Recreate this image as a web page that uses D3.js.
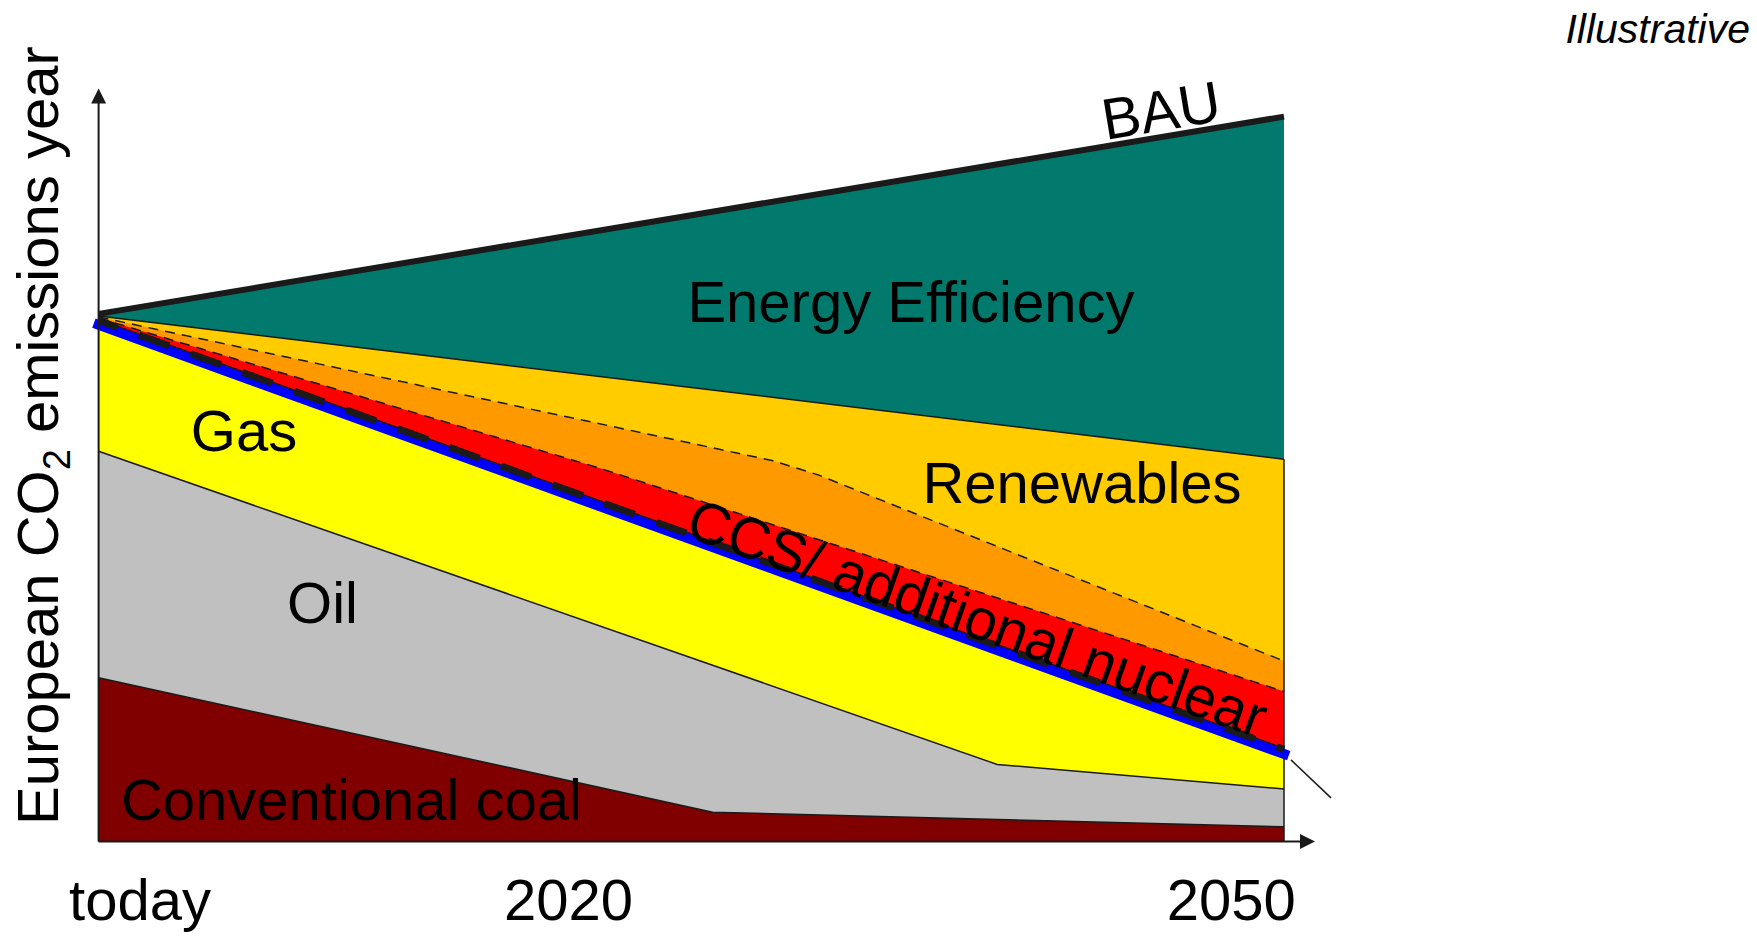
<!DOCTYPE html>
<html>
<head>
<meta charset="utf-8">
<script src="https://cdn.jsdelivr.net/npm/d3@7"></script>
<style>
  html, body { margin: 0; padding: 0; background: #fff; }
  svg { display: block; font-family: 'Liberation Sans', Arial, sans-serif; }
</style>
</head>
<body>
<div class="chart"></div>
<script>
// time runs from today (0) to 2050 (1), emissions indexed so that today = 100
const bauTop = [[0, 100.6], [1, 138.2]]
const renewablesTop = [[0, 100.2], [1, 72.9]]
const orangeTop = [[0, 100], [0.569, 72.6], [0.607, 69.9], [1, 34.4]]
const ccsTop = [[0, 99.8], [0.4225, 71.2], [1, 28.6]]
const gasTop = [[0, 98.5], [1, 16.7]]
const oilTop = [[0, 74.4], [0.758, 14.7], [1, 10.0]]
const coalTop = [[0, 31.2], [0.518, 5.6], [1, 2.8]]

const tickLabels = ['today', '2020', '2050']
const tickValues = [0.0345, 0.396, 0.955]

const width = 1757
const height = 937

const x = d3.scaleLinear().domain([0, 1]).range([98.6, 1284])
const y = d3.scaleLinear().domain([0, 100]).range([841.5, 317])

const svg = d3.select('.chart')
  .append('svg')
  .attr('width', width)
  .attr('height', height)

const area = d3.area()
  .x(d => x(d[0]))
  .y0(y(0))
  .y1(d => y(d[1]))

const line = d3.line()
  .x(d => x(d[0]))
  .y(d => y(d[1]))

// painted top down, each layer covers the one above it
const layers = [
  { top: bauTop, fill: '#02796D' },
  { top: renewablesTop, fill: '#FFCC00' },
  { top: orangeTop, fill: '#FF9900' },
  { top: ccsTop, fill: '#FF0000' },
  { top: gasTop, fill: '#FFFF00' },
  { top: oilTop, fill: '#C0C0C0' },
  { top: coalTop, fill: '#800000' }
]

svg.append('g')
  .selectAll('path')
  .data(layers)
  .join('path')
    .attr('d', d => area(d.top))
    .attr('fill', d => d.fill)

const ink = '#1a1a1a'

// thin boundaries
const thin = svg.append('g').attr('fill', 'none').attr('stroke', ink).attr('stroke-width', 1.5)
thin.append('path').attr('d', line(renewablesTop))
thin.append('path').attr('d', line(oilTop))
thin.append('path').attr('d', line(coalTop))
thin.append('path').attr('d', line(orangeTop)).attr('stroke-dasharray', '10,7')
thin.append('path').attr('d', line(ccsTop)).attr('stroke-dasharray', '10,7')
thin.append('line')
  .attr('x1', x(1)).attr('x2', x(1))
  .attr('y1', y(renewablesTop[1][1])).attr('y2', y(0))

// target path
svg.append('path')
  .attr('d', line(gasTop))
  .attr('fill', 'none')
  .attr('stroke', '#0000FF')
  .attr('stroke-width', 10)
  .attr('stroke-linecap', 'square')

svg.append('path')
  .attr('d', line(gasTop))
  .attr('transform', 'translate(0,-5.5)')
  .attr('fill', 'none')
  .attr('stroke', ink)
  .attr('stroke-width', 1.5)

svg.append('path')
  .attr('d', line(gasTop))
  .attr('transform', 'translate(0,-4.5)')
  .attr('fill', 'none')
  .attr('stroke', ink)
  .attr('stroke-width', 7)
  .attr('stroke-dasharray', '32,23')
  .attr('stroke-dashoffset', 12)

// callout tick off the end of the target path
const gx = x(1)
const gy = y(gasTop[1][1])
svg.append('line')
  .attr('x1', gx + 7).attr('y1', gy + 6)
  .attr('x2', gx + 47).attr('y2', gy + 44)
  .attr('stroke', ink)
  .attr('stroke-width', 1.5)

// BAU line
svg.append('path')
  .attr('d', line(bauTop))
  .attr('fill', 'none')
  .attr('stroke', ink)
  .attr('stroke-width', 6)

// axes with arrow heads
svg.append('line')
  .attr('x1', x(0)).attr('y1', y(0))
  .attr('x2', x(0)).attr('y2', 103)
  .attr('stroke', ink).attr('stroke-width', 2)
svg.append('path')
  .attr('d', `M${x(0)},88.5 L${x(0) + 7.5},103.5 L${x(0) - 7.5},103.5 Z`)
  .attr('fill', ink)

svg.append('line')
  .attr('x1', x(0)).attr('y1', y(0))
  .attr('x2', 1300).attr('y2', y(0))
  .attr('stroke', ink).attr('stroke-width', 2)
svg.append('path')
  .attr('d', `M1315,${y(0)} L1300,${y(0) - 7.5} L1300,${y(0) + 7.5} Z`)
  .attr('fill', ink)

const xAxis = d3.axisBottom(x)
  .tickValues(tickValues)
  .tickFormat((d, i) => tickLabels[i])
  .tickSize(0)
  .tickPadding(37)

const xAxisG = svg.append('g')
  .attr('transform', `translate(0, ${y(0)})`)
  .call(xAxis)
xAxisG.select('.domain').remove()
xAxisG.selectAll('text')
  .attr('font-family', "'Liberation Sans', Arial, sans-serif")
  .attr('font-size', 58)
  .attr('fill', '#000')

// layer labels
const labelSize = 58
const labels = [
  { text: 'Energy Efficiency', t: 0.6853, v: 99.1 },
  { text: 'Renewables', t: 0.8296, v: 64.5 },
  { text: 'Gas', t: 0.1227, v: 74.5 },
  { text: 'Oil', t: 0.1889, v: 41.7 },
  { text: 'Conventional coal', t: 0.2133, v: 4.1 }
]

svg.append('g')
  .selectAll('text')
  .data(labels)
  .join('text')
    .attr('x', d => x(d.t))
    .attr('y', d => y(d.v))
    .attr('text-anchor', 'middle')
    .attr('font-size', labelSize)
    .attr('fill', '#000')
    .text(d => d.text)

const angleOf = pts => Math.atan2(y(pts[1][1]) - y(pts[0][1]), x(pts[1][0]) - x(pts[0][0])) * 180 / Math.PI

svg.append('text')
  .attr('transform', `translate(${x(0.899)}, ${y(135.6)}) rotate(${angleOf(bauTop)})`)
  .attr('text-anchor', 'middle')
  .attr('font-size', labelSize)
  .attr('fill', '#000')
  .text('BAU')

svg.append('text')
  .attr('transform', `translate(${x(0.4934)}, ${y(58.3)}) rotate(${angleOf(gasTop) - 0.5})`)
  .attr('font-size', labelSize)
  .attr('fill', '#000')
  .text('CCS/ additional nuclear')

// y axis title
const yTitle = svg.append('text')
  .attr('transform', 'translate(58, 825) rotate(-90)')
  .attr('font-size', labelSize)
  .attr('fill', '#000')
yTitle.append('tspan').text('European CO')
yTitle.append('tspan').attr('font-size', 38).attr('dy', 12).text('2')
yTitle.append('tspan').attr('dy', -12).text(' emissions year')

svg.append('text')
  .attr('x', 1750)
  .attr('y', 43)
  .attr('text-anchor', 'end')
  .attr('font-size', 41)
  .attr('font-style', 'italic')
  .attr('fill', '#000')
  .text('Illustrative')
</script>
</body>
</html>
